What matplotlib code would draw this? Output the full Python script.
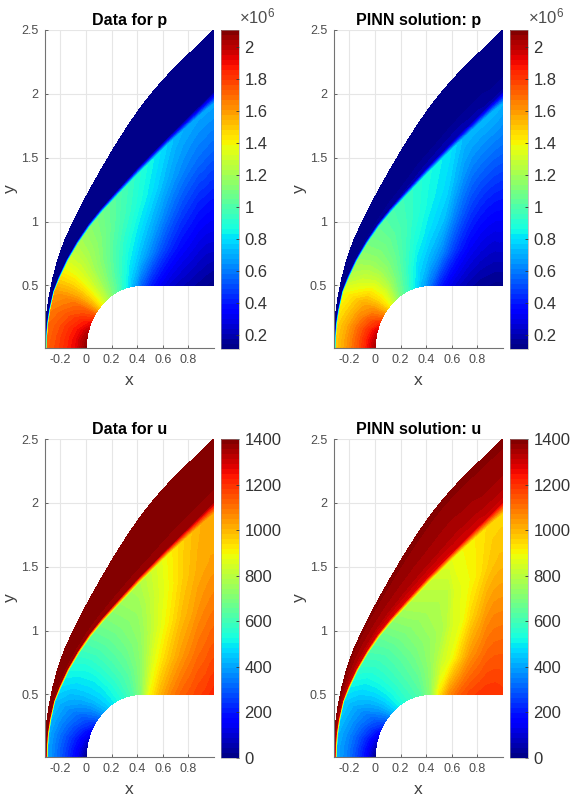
"""four field panels of a blunt body flow, data against PINN solution"""
import numpy as np
import matplotlib
matplotlib.use('Agg')
import matplotlib.pyplot as plt

plt.rcParams['font.family'] = ['Liberation Sans', 'DejaVu Sans']
plt.rcParams['mathtext.fontset'] = 'custom'
plt.rcParams['mathtext.rm'] = 'Liberation Sans'

# curves across the domain, one entry per ray from the body out to the far edge
body_x = [0.00, 0.004, 0.017, 0.037, 0.065, 0.101, 0.142, 0.19, 0.242, 0.297, 0.363,
          0.43, 0.50, 0.58, 0.66, 0.74, 0.82, 0.88, 0.94, 0.97, 1.00]
body_y = [0.01, 0.07, 0.138, 0.203, 0.265, 0.321, 0.372, 0.415, 0.449, 0.476, 0.494,
          0.50, 0.50, 0.50, 0.50, 0.50, 0.50, 0.50, 0.50, 0.50, 0.50]
post_x = [-0.30, -0.298, -0.29, -0.273, -0.243, -0.20, -0.135, -0.055, 0.035, 0.13, 0.25,
          0.41, 0.59, 0.64, 0.70, 0.76, 0.82, 0.87, 0.92, 0.975, 1.00]
post_y = [0.01, 0.10, 0.20, 0.31, 0.45, 0.55, 0.69, 0.825, 0.955, 1.07, 1.20,
          1.37, 1.55, 1.60, 1.655, 1.71, 1.765, 1.81, 1.855, 1.90, 1.92]
pre_x = [-0.315, -0.313, -0.305, -0.288, -0.256, -0.215, -0.15, -0.07, 0.02, 0.12, 0.24,
         0.40, 0.58, 0.63, 0.69, 0.75, 0.81, 0.86, 0.91, 0.97, 1.00]
pre_y = [0.01, 0.10, 0.20, 0.31, 0.45, 0.56, 0.70, 0.84, 0.975, 1.10, 1.235,
         1.41, 1.595, 1.645, 1.705, 1.765, 1.825, 1.875, 1.925, 1.985, 2.015]
outer_x = [-0.325, -0.321, -0.311, -0.291, -0.261, -0.221, -0.172, -0.113, -0.045, 0.033, 0.12,
           0.217, 0.324, 0.424, 0.522, 0.609, 0.70, 0.786, 0.865, 0.936, 1.00]
outer_y = [0.01, 0.13, 0.26, 0.40, 0.55, 0.70, 0.84, 0.97, 1.11, 1.255, 1.41,
           1.575, 1.745, 1.89, 2.015, 2.115, 2.21, 2.295, 2.37, 2.44, 2.50]

# columns: body, 1/4, 1/2, 3/4, post shock, pre shock, far, outer edge
p_data = [
    [2.08, 1.93, 1.85, 1.78, 1.72, 0.11, 0.11, 0.11],
    [2.06, 1.92, 1.84, 1.77, 1.71, 0.11, 0.11, 0.11],
    [2.00, 1.89, 1.82, 1.75, 1.70, 0.11, 0.11, 0.11],
    [1.90, 1.83, 1.77, 1.71, 1.66, 0.11, 0.11, 0.11],
    [1.75, 1.72, 1.68, 1.63, 1.59, 0.11, 0.11, 0.11],
    [1.50, 1.52, 1.52, 1.50, 1.47, 0.11, 0.11, 0.11],
    [1.30, 1.33, 1.34, 1.34, 1.32, 0.11, 0.11, 0.11],
    [1.15, 1.18, 1.20, 1.22, 1.22, 0.11, 0.11, 0.11],
    [1.02, 1.06, 1.10, 1.14, 1.14, 0.11, 0.11, 0.11],
    [0.88, 0.95, 1.00, 1.06, 1.08, 0.11, 0.11, 0.11],
    [0.72, 0.83, 0.90, 0.97, 1.00, 0.11, 0.11, 0.11],
    [0.55, 0.72, 0.80, 0.87, 0.90, 0.11, 0.11, 0.11],
    [0.42, 0.60, 0.69, 0.76, 0.79, 0.11, 0.11, 0.11],
    [0.32, 0.50, 0.62, 0.71, 0.76, 0.11, 0.11, 0.11],
    [0.25, 0.42, 0.55, 0.66, 0.72, 0.11, 0.11, 0.11],
    [0.21, 0.36, 0.49, 0.62, 0.70, 0.11, 0.11, 0.11],
    [0.18, 0.32, 0.45, 0.59, 0.69, 0.11, 0.11, 0.11],
    [0.16, 0.29, 0.42, 0.57, 0.68, 0.11, 0.11, 0.11],
    [0.14, 0.27, 0.41, 0.56, 0.68, 0.11, 0.11, 0.11],
    [0.13, 0.27, 0.40, 0.55, 0.68, 0.11, 0.11, 0.11],
    [0.12, 0.27, 0.40, 0.55, 0.68, 0.11, 0.11, 0.11],
]
p_pinn = [
    [2.03, 1.85, 1.72, 1.60, 1.50, 0.13, 0.12, 0.11],
    [2.00, 1.84, 1.71, 1.59, 1.49, 0.13, 0.12, 0.11],
    [1.95, 1.81, 1.69, 1.57, 1.47, 0.13, 0.12, 0.11],
    [1.83, 1.74, 1.63, 1.52, 1.43, 0.13, 0.12, 0.11],
    [1.66, 1.62, 1.56, 1.46, 1.37, 0.13, 0.12, 0.11],
    [1.46, 1.47, 1.45, 1.35, 1.26, 0.14, 0.12, 0.11],
    [1.28, 1.33, 1.30, 1.24, 1.18, 0.15, 0.12, 0.11],
    [1.10, 1.17, 1.17, 1.14, 1.10, 0.15, 0.12, 0.11],
    [0.98, 1.04, 1.07, 1.07, 1.04, 0.16, 0.12, 0.11],
    [0.85, 0.92, 0.98, 1.00, 0.99, 0.17, 0.13, 0.11],
    [0.72, 0.80, 0.88, 0.93, 0.94, 0.18, 0.13, 0.11],
    [0.58, 0.72, 0.80, 0.85, 0.87, 0.19, 0.14, 0.11],
    [0.42, 0.62, 0.73, 0.78, 0.80, 0.20, 0.14, 0.11],
    [0.30, 0.50, 0.63, 0.72, 0.76, 0.20, 0.14, 0.11],
    [0.23, 0.40, 0.54, 0.65, 0.72, 0.20, 0.14, 0.11],
    [0.18, 0.33, 0.47, 0.60, 0.72, 0.19, 0.14, 0.11],
    [0.15, 0.29, 0.43, 0.58, 0.72, 0.19, 0.14, 0.11],
    [0.14, 0.27, 0.41, 0.57, 0.72, 0.18, 0.14, 0.11],
    [0.13, 0.26, 0.40, 0.56, 0.72, 0.18, 0.13, 0.11],
    [0.13, 0.27, 0.40, 0.56, 0.71, 0.18, 0.13, 0.11],
    [0.13, 0.27, 0.40, 0.56, 0.70, 0.18, 0.13, 0.11],
]
u_data = [
    [0, 150, 240, 320, 400, 1365, 1385, 1385],
    [45, 165, 250, 325, 400, 1365, 1385, 1385],
    [90, 190, 265, 335, 405, 1365, 1385, 1385],
    [150, 235, 300, 360, 420, 1365, 1385, 1385],
    [230, 290, 340, 390, 440, 1365, 1385, 1385],
    [320, 360, 400, 430, 475, 1365, 1385, 1385],
    [410, 440, 465, 490, 525, 1365, 1385, 1385],
    [470, 490, 510, 540, 580, 1365, 1385, 1385],
    [520, 540, 570, 600, 640, 1365, 1385, 1385],
    [560, 590, 620, 650, 690, 1365, 1385, 1385],
    [620, 640, 670, 700, 740, 1365, 1385, 1385],
    [720, 720, 730, 750, 780, 1365, 1385, 1385],
    [900, 860, 840, 850, 870, 1365, 1385, 1385],
    [1000, 930, 890, 880, 900, 1365, 1385, 1385],
    [1070, 990, 940, 920, 930, 1365, 1385, 1385],
    [1120, 1040, 990, 960, 960, 1365, 1385, 1385],
    [1150, 1080, 1020, 990, 980, 1365, 1385, 1385],
    [1175, 1110, 1050, 1010, 1000, 1365, 1385, 1385],
    [1190, 1125, 1070, 1020, 1010, 1365, 1385, 1385],
    [1205, 1140, 1080, 1030, 1010, 1365, 1385, 1385],
    [1215, 1145, 1085, 1030, 1010, 1365, 1385, 1385],
]
u_pinn = [
    [0, 170, 270, 350, 410, 1300, 1340, 1385],
    [50, 185, 280, 355, 410, 1300, 1340, 1385],
    [100, 210, 295, 365, 420, 1300, 1340, 1385],
    [165, 255, 325, 385, 440, 1300, 1340, 1385],
    [250, 310, 360, 410, 460, 1300, 1340, 1385],
    [340, 385, 420, 455, 500, 1290, 1340, 1385],
    [440, 465, 490, 515, 560, 1290, 1340, 1385],
    [510, 530, 550, 570, 610, 1290, 1340, 1385],
    [560, 580, 600, 620, 660, 1280, 1340, 1385],
    [590, 620, 640, 670, 720, 1280, 1340, 1385],
    [630, 660, 690, 720, 780, 1280, 1340, 1385],
    [720, 730, 740, 770, 820, 1280, 1340, 1385],
    [920, 830, 790, 800, 870, 1280, 1340, 1385],
    [1060, 880, 850, 860, 890, 1290, 1340, 1385],
    [1130, 970, 880, 880, 900, 1290, 1340, 1385],
    [1170, 1050, 950, 900, 910, 1290, 1345, 1385],
    [1190, 1090, 1000, 930, 930, 1290, 1345, 1385],
    [1200, 1120, 1040, 960, 940, 1300, 1350, 1385],
    [1200, 1130, 1060, 980, 950, 1300, 1350, 1385],
    [1195, 1130, 1060, 990, 950, 1300, 1350, 1385],
    [1190, 1130, 1060, 990, 950, 1300, 1350, 1385],
]

titles = ['Data for p', 'PINN solution: p', 'Data for u', 'PINN solution: u']
p_ticks = [0.2, 0.4, 0.6, 0.8, 1, 1.2, 1.4, 1.6, 1.8, 2]
u_ticks = [0, 200, 400, 600, 800, 1000, 1200, 1400]
x_ticks = [-0.2, 0, 0.2, 0.4, 0.6, 0.8]
y_ticks = [0.5, 1, 1.5, 2, 2.5]

W, H = 571, 798


def px_axes(fig, left, top, right, bottom):
    return fig.add_axes([left / W, 1 - bottom / H, (right - left) / W, (bottom - top) / H])


def mesh():
    """ rays by layers, inside the shock 4 steps then two layers outside """
    bx, by = np.array(body_x), np.array(body_y)
    px, py = np.array(post_x), np.array(post_y)
    qx, qy = np.array(pre_x), np.array(pre_y)
    ox, oy = np.array(outer_x), np.array(outer_y)
    X, Y = [], []
    for t in [0, 0.25, 0.5, 0.75, 1]:
        X.append(bx + t * (px - bx))
        Y.append(by + t * (py - by))
    for t in [0, 0.3, 1]:
        X.append(qx + t * (ox - qx))
        Y.append(qy + t * (oy - qy))
    return np.array(X).T, np.array(Y).T


def panel(fig, left, top, field, title, vmin, vmax, ticks, factor=False):
    ax = px_axes(fig, left, top, left + 169.5, top + 318)
    cax = px_axes(fig, left + 176.5, top, left + 194.5, top + 319)
    X, Y = mesh()
    levels = np.linspace(vmin, vmax, 65)
    cf = ax.contourf(X, Y, np.array(field), levels=levels, cmap='jet', zorder=2)
    ax.set_xlim(-0.325, 1.0)
    ax.set_ylim(0.01, 2.5)
    ax.set_xticks(x_ticks)
    ax.set_yticks(y_ticks)
    ax.set_xticklabels(['%g' % t for t in x_ticks])
    ax.set_yticklabels(['%g' % t for t in y_ticks])
    ax.grid(True, color='0.9', lw=0.8)
    ax.set_axisbelow(True)
    ax.tick_params(direction='in', length=2.5, width=0.6, labelsize=9, colors='0.3', pad=4.5)
    for side in ['top', 'right']:
        ax.spines[side].set_visible(False)
    for side in ['left', 'bottom']:
        ax.spines[side].set_color('0.45')
        ax.spines[side].set_linewidth(0.8)
    ax.set_xlabel('x', fontsize=12.5, color='0.25', labelpad=5)
    ax.set_ylabel('y', fontsize=12.5, color='0.25', labelpad=2)
    ax.set_title(title, fontsize=11.5, fontweight='bold', pad=3.5)

    cb = fig.colorbar(cf, cax=cax, ticks=ticks)
    cb.ax.set_yticklabels(['%g' % t for t in ticks])
    cb.ax.tick_params(direction='in', length=2.5, width=0.6, labelsize=12, colors='0.2', pad=4)
    cb.outline.set_edgecolor('0.6')
    cb.outline.set_linewidth(0.4)
    if factor:
        cax.text(1.02, 1.022, r'$\times\mathregular{10^{6}}$', transform=cax.transAxes, fontsize=12,
                 color='0.3', ha='left', va='baseline')


if __name__ == '__main__':
    fig = plt.figure(figsize=(W / 100, H / 100), dpi=100)
    panel(fig, 44.5, 30, p_data, titles[0], 0.11, 2.106, p_ticks, True)
    panel(fig, 333.5, 30, p_pinn, titles[1], 0.11, 2.106, p_ticks, True)
    panel(fig, 44.5, 439, u_data, titles[2], 0, 1400, u_ticks)
    panel(fig, 333.5, 439, u_pinn, titles[3], 0, 1400, u_ticks)
    fig.savefig('out.png', dpi=100)
